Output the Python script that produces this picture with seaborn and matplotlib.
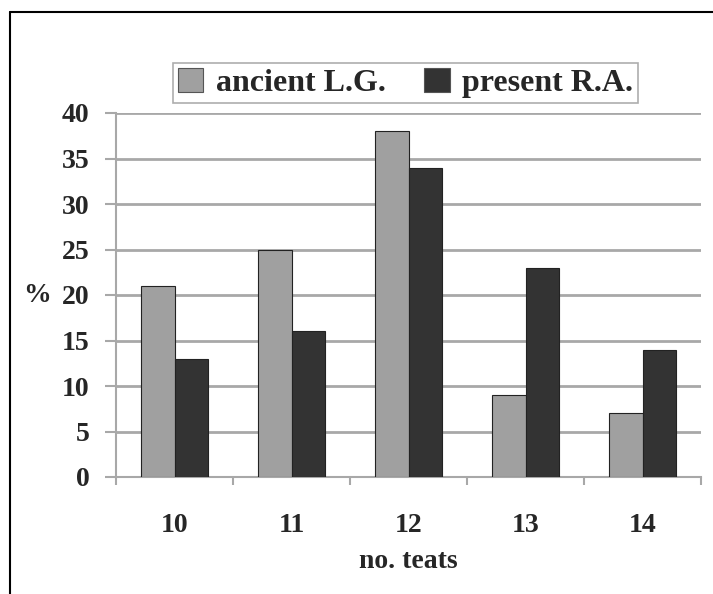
import matplotlib
matplotlib.use("Agg")
import matplotlib.pyplot as plt
import seaborn as sns
import pandas as pd
from matplotlib.lines import Line2D

categories = ["10", "11", "12", "13", "14"]
ancient = [21, 25, 38, 9, 7]
present = [13, 16, 34, 23, 14]
series_names = ["ancient L.G.", "present R.A."]
yticks = [0, 5, 10, 15, 20, 25, 30, 35, 40]

df = pd.DataFrame({
    "teats": categories * 2,
    "value": ancient + present,
    "series": [series_names[0]] * len(categories) + [series_names[1]] * len(categories),
})

sns.set_style("white")
plt.rcParams["font.family"] = ["Liberation Serif", "DejaVu Serif"]
plt.rcParams["font.weight"] = "bold"

fig = plt.figure(figsize=(7.13, 5.94), dpi=100)
ax = fig.add_axes([116 / 713, 1 - 477 / 594, (701 - 116) / 713, (477 - 113) / 594])

palette = {series_names[0]: "#a0a0a0", series_names[1]: "#333333"}
sns.barplot(data=df, x="teats", y="value", hue="series", order=categories,
            hue_order=series_names, palette=palette, width=0.58, gap=0,
            edgecolor="#222222", linewidth=0.8, saturation=1, ax=ax, legend=False, zorder=3)

ax.set_xlim(-0.5, 4.5)
ax.set_ylim(0, 40)
ax.set_yticks(yticks)
ax.set_yticklabels([str(t) for t in yticks], fontsize=20, fontweight="bold")
ax.yaxis.grid(True, color="#a8a8a8", linewidth=2, zorder=0)
ax.set_axisbelow(True)

for s in ["top", "right"]:
    ax.spines[s].set_visible(False)
for s in ["left", "bottom"]:
    ax.spines[s].set_color("#a8a8a8")
    ax.spines[s].set_linewidth(1.5)

ax.tick_params(axis="y", which="major", left=True, length=8, width=1.5, color="#a8a8a8", pad=11)
ax.tick_params(axis="x", which="major", bottom=False, length=0, pad=26, labelsize=20)
for lbl in ax.get_xticklabels():
    lbl.set_fontweight("bold")
ax.set_xticks([-0.5, 0.5, 1.5, 2.5, 3.5, 4.5], minor=True)
ax.tick_params(axis="x", which="minor", bottom=True, length=6, width=1.5, color="#a8a8a8")

ax.set_xlabel("no. teats", fontsize=20, fontweight="bold", labelpad=8)
ax.set_ylabel("%", fontsize=20, fontweight="bold", rotation=0, labelpad=8,
              ha="right", va="center")

handles = [
    plt.Rectangle((0, 0), 1, 1, facecolor=palette[n], edgecolor="#555555", linewidth=0.8)
    for n in series_names
]
leg = fig.legend(handles, series_names, loc="center", ncol=2,
                 bbox_to_anchor=((168 + 643) / 2 / 713, 1 - 83 / 594),
                 frameon=True, fancybox=False, edgecolor="#999999",
                 prop={"family": "Liberation Serif", "weight": "bold", "size": 23},
                 handlelength=0.8, handleheight=0.8, handletextpad=0.4,
                 columnspacing=1.2, borderpad=0.15, borderaxespad=0)
leg.get_frame().set_linewidth(1.2)

# partial outer frame (top and left)
fig.add_artist(Line2D([10 / 713, 1.0], [1 - 12 / 594, 1 - 12 / 594], color="black", lw=1.5))
fig.add_artist(Line2D([10 / 713, 10 / 713], [0, 1 - 12 / 594], color="black", lw=1.5))

fig.savefig("out.png", dpi=100)
